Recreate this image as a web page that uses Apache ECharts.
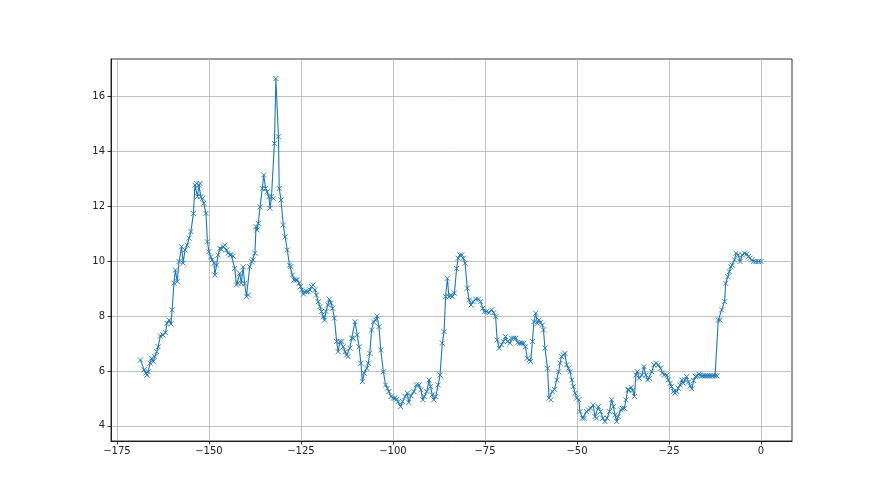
<!DOCTYPE html>
<html>
<head>
<meta charset="utf-8">
<script src="https://cdn.jsdelivr.net/npm/echarts@6/dist/echarts.min.js"></script>
<style>html,body{margin:0;padding:0;background:#fff}#c{width:880px;height:495px}</style>
</head>
<body>
<div id="c"></div>
<script>
const xTicks = [-175, -150, -125, -100, -75, -50, -25, 0];
const yTicks = [4, 6, 8, 10, 12, 14, 16];
const xs = [-168.6,-167.6,-167.1,-166.8,-166.5,-166.0,-165.6,-165.1,-164.7,-164.2,-163.8,-163.2,-162.5,-161.8,-161.4,-160.8,-160.3,-160.0,-159.5,-159.1,-158.6,-158.1,-157.4,-157.0,-156.5,-155.9,-155.4,-154.9,-154.2,-153.8,-153.3,-153.1,-152.7,-152.4,-152.2,-151.7,-151.4,-150.8,-150.4,-150.0,-149.5,-149.1,-148.6,-148.4,-147.9,-147.5,-147.0,-146.6,-146.1,-145.7,-145.2,-144.8,-144.3,-143.9,-143.4,-143.0,-142.5,-142.1,-141.6,-141.2,-140.7,-140.3,-139.8,-139.3,-138.9,-138.4,-138.0,-137.5,-137.2,-136.9,-136.6,-136.1,-135.5,-135.1,-134.6,-134.2,-133.7,-133.4,-133.0,-132.5,-132.2,-131.8,-131.1,-130.9,-130.4,-129.8,-129.3,-128.7,-128.1,-127.8,-127.3,-126.9,-126.4,-126.0,-125.5,-125.1,-124.8,-124.3,-123.9,-123.4,-123.0,-122.6,-122.1,-121.7,-121.2,-120.8,-120.3,-119.8,-119.4,-118.9,-118.6,-118.2,-117.7,-117.3,-116.8,-116.4,-115.9,-115.3,-114.9,-114.4,-113.9,-113.5,-113.0,-112.6,-112.2,-111.7,-111.2,-110.8,-110.3,-109.7,-109.2,-108.7,-108.3,-107.8,-107.1,-106.7,-106.3,-105.8,-105.3,-104.7,-104.3,-103.8,-103.3,-102.6,-102.0,-101.5,-101.1,-100.5,-99.9,-99.5,-99.0,-98.6,-97.9,-97.4,-96.7,-96.1,-95.7,-95.1,-94.3,-93.6,-92.9,-92.4,-91.9,-91.5,-90.8,-90.2,-89.8,-89.3,-88.9,-88.4,-87.7,-87.2,-86.6,-86.1,-85.7,-85.2,-84.8,-84.3,-83.9,-83.3,-82.7,-82.3,-81.8,-81.3,-80.9,-80.4,-79.8,-79.3,-78.8,-78.2,-77.5,-76.8,-76.2,-75.6,-75.2,-74.6,-73.9,-73.2,-72.6,-72.1,-71.7,-71.1,-70.5,-70.0,-69.4,-68.9,-68.2,-67.8,-67.2,-66.6,-66.1,-65.5,-64.9,-64.4,-64.0,-63.5,-63.0,-62.6,-62.1,-61.7,-61.2,-60.8,-60.3,-59.9,-59.4,-59.1,-58.7,-58.0,-57.6,-57.1,-56.7,-56.1,-55.5,-55.0,-54.6,-54.2,-53.7,-53.3,-52.8,-52.3,-51.9,-51.4,-51.0,-50.5,-50.1,-49.5,-49.2,-48.5,-48.0,-47.4,-46.9,-46.3,-45.6,-45.1,-44.7,-44.2,-43.6,-43.0,-42.4,-41.8,-41.2,-40.6,-40.1,-39.7,-39.2,-38.8,-38.1,-37.7,-37.1,-36.7,-36.2,-35.9,-35.3,-34.9,-34.4,-34.0,-33.6,-33.1,-32.4,-31.8,-31.3,-30.8,-30.3,-29.7,-29.1,-28.5,-27.9,-27.3,-26.8,-26.3,-25.6,-25.2,-24.7,-24.3,-23.8,-23.4,-22.9,-22.5,-22.0,-21.5,-21.1,-20.7,-20.2,-19.7,-19.2,-18.8,-18.3,-17.8,-17.3,-16.9,-16.5,-16.1,-15.7,-15.2,-14.8,-14.3,-13.9,-13.4,-13.0,-12.5,-12.0,-11.6,-11.1,-10.7,-9.9,-9.6,-9.0,-8.6,-8.2,-7.8,-7.2,-6.8,-6.2,-5.7,-5.1,-4.5,-3.9,-3.4,-3.0,-2.5,-2.1,-1.4,-0.7,0];
const ys = [6.40,6.04,5.92,5.85,5.97,6.28,6.46,6.34,6.52,6.70,6.88,7.27,7.31,7.39,7.73,7.85,7.71,8.22,9.19,9.67,9.25,9.98,10.52,9.92,10.40,10.58,10.83,11.07,11.73,12.76,12.82,12.34,12.76,12.82,12.34,12.28,12.10,11.73,10.70,10.34,10.15,10.04,9.92,9.49,9.85,10.22,10.46,10.42,10.52,10.58,10.40,10.28,10.22,10.22,10.18,9.73,9.13,9.19,9.55,9.19,9.79,9.19,8.70,8.76,9.79,9.97,10.04,10.28,11.25,11.13,11.37,11.97,12.64,13.13,12.64,12.52,12.34,11.92,12.34,12.28,14.28,16.64,14.52,12.64,12.22,11.31,10.88,10.40,9.85,9.79,9.49,9.31,9.31,9.31,9.19,9.07,8.95,8.80,8.88,8.88,8.88,8.95,9.07,9.13,8.95,8.76,8.52,8.34,8.16,7.97,7.85,8.16,8.40,8.61,8.46,8.28,7.92,7.07,6.70,7.07,7.07,6.88,6.70,6.58,6.52,6.83,7.19,7.19,7.79,7.31,6.88,6.28,5.61,5.92,6.10,6.28,6.64,7.49,7.79,7.85,8.00,7.61,6.76,5.97,5.49,5.37,5.25,5.07,5.01,5.01,4.97,4.88,4.70,4.88,5.07,5.19,4.85,5.10,5.25,5.49,5.49,5.31,4.95,5.07,5.25,5.67,5.43,5.13,4.95,5.07,5.49,5.85,7.01,7.43,8.70,9.37,8.70,8.76,8.70,8.83,9.73,10.10,10.22,10.22,10.10,9.92,9.01,8.58,8.40,8.52,8.61,8.61,8.52,8.28,8.16,8.16,8.12,8.22,8.12,7.97,7.13,6.83,6.95,7.07,7.25,7.07,7.01,7.19,7.19,7.19,7.03,7.01,7.01,7.01,6.88,6.46,6.40,6.34,7.07,7.79,8.10,7.73,7.85,7.76,7.67,7.49,6.83,6.10,5.01,4.95,5.25,5.33,5.67,5.97,6.28,6.52,6.58,6.64,6.22,6.10,5.97,5.67,5.43,5.19,5.01,4.95,4.52,4.28,4.28,4.52,4.58,4.64,4.76,4.34,4.28,4.70,4.52,4.28,4.16,4.28,4.52,4.95,4.70,4.40,4.16,4.34,4.58,4.64,4.64,4.95,5.31,5.31,5.40,5.30,5.07,5.85,5.97,5.73,5.85,6.16,5.85,5.67,5.73,5.97,6.22,6.28,6.22,6.10,5.92,5.85,5.85,5.67,5.55,5.43,5.25,5.19,5.25,5.37,5.49,5.67,5.55,5.67,5.79,5.60,5.45,5.35,5.65,5.80,5.82,5.88,5.85,5.82,5.82,5.82,5.82,5.82,5.82,5.82,5.82,5.82,5.82,7.85,7.85,8.22,8.52,9.19,9.43,9.61,9.79,9.85,10.04,10.28,10.22,9.98,10.22,10.28,10.25,10.16,10.10,10.04,9.98,9.98,9.98,9.98,9.92];

const data = xs.map((x, i) => [x, ys[i]]);
const fmt = v => String(v).replace('-', '\u2212');
const labelStyle = { color: '#222', fontFamily: 'DejaVu Sans', fontSize: 10 };

const chart = echarts.init(document.getElementById('c'), null, { renderer: 'canvas' });
chart.setOption({
  animation: false,
  backgroundColor: '#fff',
  grid: { left: 111, right: 88, top: 59, bottom: 54, show: true, borderColor: '#000', borderWidth: 0.8, backgroundColor: 'transparent' },
  xAxis: {
    type: 'value', min: -176.6, max: 8.42,
    axisLine: { show: true, onZero: false, lineStyle: { color: '#000', width: 0.8 } },
    axisTick: { show: true, inside: false, length: 3.5, customValues: xTicks, lineStyle: { color: '#000', width: 0.8 } },
    axisLabel: { customValues: xTicks, formatter: fmt, margin: 5, showMinLabel: true, showMaxLabel: true, ...labelStyle },
    splitLine: { show: true, lineStyle: { color: '#b0b0b0', width: 0.8 } }
  },
  yAxis: {
    type: 'value', min: 3.45, max: 17.35,
    axisLine: { show: true, onZero: false, lineStyle: { color: '#000', width: 0.8 } },
    axisTick: { show: true, inside: false, length: 3.5, customValues: yTicks, lineStyle: { color: '#000', width: 0.8 } },
    axisLabel: { customValues: yTicks, formatter: fmt, margin: 6, ...labelStyle },
    splitLine: { show: true, lineStyle: { color: '#b0b0b0', width: 0.8 } }
  },
  series: [{
    type: 'line',
    data: data,
    symbol: 'path://M0,0L10,10M10,0L0,10',
    symbolSize: 5,
    showAllSymbol: true,
    itemStyle: { color: '#1f77b4', borderColor: '#1f77b4', borderWidth: 0.9 },
    lineStyle: { color: '#1f77b4', width: 1.1 },
    z: 3
  }]
});
</script>
</body>
</html>
